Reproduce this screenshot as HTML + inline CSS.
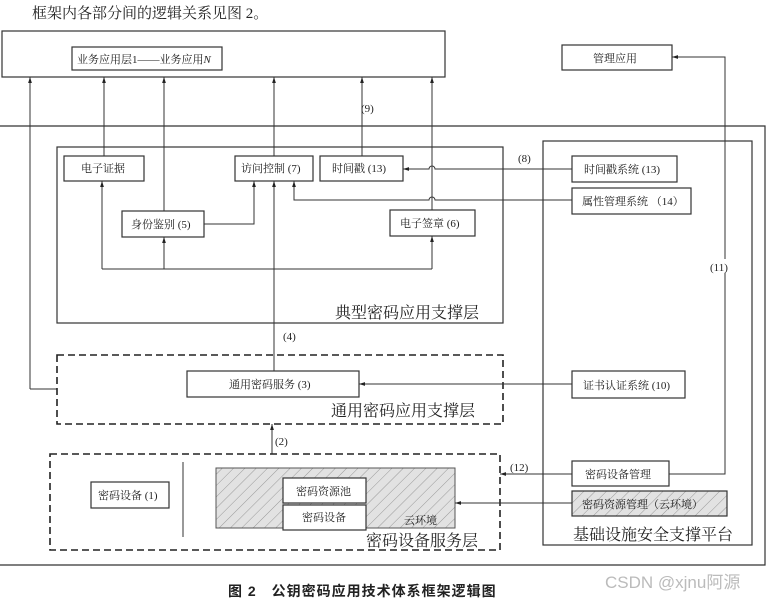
<!DOCTYPE html>
<html><head><meta charset="utf-8"><style>
html,body{margin:0;padding:0;background:#fff;}
svg{display:block;}
text{font-family:"Liberation Serif","Noto Serif CJK SC","Noto Sans CJK SC",serif;fill:#222;}
.b{fill:#fff;stroke:#333;stroke-width:1.2;}
.l{fill:none;stroke:#333;stroke-width:1;}
.d{fill:none;stroke:#222;stroke-width:1.6;stroke-dasharray:7,4;}
.s{font-size:11px;}
.m{font-size:16px;}
</style></head><body>
<svg width="766" height="602" viewBox="0 0 766 602" xmlns="http://www.w3.org/2000/svg">
<defs>
<marker id="a" viewBox="0 0 8 8" refX="8" refY="4" markerWidth="6" markerHeight="6" orient="auto"><path d="M0,1.5 L8,4 L0,6.5 z" fill="#222"/></marker>
<pattern id="h" width="8" height="8" patternUnits="userSpaceOnUse" patternTransform="rotate(45)"><rect width="8" height="8" fill="#e2e2e2"/><line x1="0" y1="0" x2="0" y2="8" stroke="#999" stroke-width="1"/></pattern>
</defs>
<text x="32" y="18" style="font-size:15px">框架内各部分间的逻辑关系见图 2。</text>
<!-- top -->
<rect class="b" x="2" y="31" width="443" height="46"/>
<rect class="b" x="72" y="47" width="150" height="23"/>
<text class="s" x="77" y="63">业务应用层1——业务应用<tspan font-style="italic">N</tspan></text>
<rect class="b" x="562" y="45" width="110" height="25"/>
<text class="s" x="593" y="62">管理应用</text>
<!-- outer -->
<path class="l" d="M0,126 H765 V565 H0" style="stroke-width:1.2"/>
<rect class="b" x="57" y="147" width="446" height="176" style="fill:none"/>
<rect class="b" x="543" y="141" width="209" height="404" style="fill:none"/>
<text class="m" x="335" y="318">典型密码应用支撑层</text>
<text class="m" x="573" y="540">基础设施安全支撑平台</text>
<!-- lines -->
<path class="l" d="M30,389 V77" marker-end="url(#a)"/>
<path class="l" d="M57,389 H30"/>
<path class="l" d="M104,156 V77" marker-end="url(#a)"/>
<path class="l" d="M164,211 V77" marker-end="url(#a)"/>
<path class="l" d="M274,156 V77" marker-end="url(#a)"/>
<path class="l" d="M362,156 V77" marker-end="url(#a)"/>
<text class="s" x="361" y="112">(9)</text>
<path class="l" d="M432,210 V77" marker-end="url(#a)"/>
<path class="l" d="M102,269 H432"/>
<path class="l" d="M102,269 V181" marker-end="url(#a)"/>
<path class="l" d="M164,269 V237" marker-end="url(#a)"/>
<path class="l" d="M432,269 V236" marker-end="url(#a)"/>
<path class="l" d="M204,224 H254 V181" marker-end="url(#a)"/>
<path class="l" d="M274,371 V181" marker-end="url(#a)"/>
<path class="l" d="M572,169 H435 a3,3 0 0 0 -6,0 H403" marker-end="url(#a)"/>
<text class="s" x="518" y="162">(8)</text>
<path class="l" d="M572,200 H435 a3,3 0 0 0 -6,0 H294 V181" marker-end="url(#a)"/>
<path class="l" d="M669,474 H725 V57 H672" marker-end="url(#a)"/>
<rect x="708" y="259" width="34" height="14" fill="#fff"/>
<text class="s" x="710" y="271">(11)</text>
<text class="s" x="283" y="340">(4)</text>
<!-- boxes -->
<rect class="b" x="64" y="156" width="80" height="25"/><text class="s" x="81" y="172">电子证据</text>
<rect class="b" x="235" y="156" width="78" height="25"/><text class="s" x="241" y="172">访问控制 (7)</text>
<rect class="b" x="320" y="156" width="83" height="25"/><text class="s" x="332" y="172">时间戳 (13)</text>
<rect class="b" x="572" y="156" width="105" height="26"/><text class="s" x="584" y="173">时间戳系统 (13)</text>
<rect class="b" x="572" y="188" width="119" height="26"/><text class="s" x="582" y="205">属性管理系统 （14）</text>
<rect class="b" x="122" y="211" width="82" height="26"/><text class="s" x="131" y="228">身份鉴别 (5)</text>
<rect class="b" x="390" y="210" width="85" height="26"/><text class="s" x="400" y="227">电子签章 (6)</text>
<!-- general layer -->
<rect class="d" x="57" y="355" width="446" height="69"/>
<path class="l" d="M572,384 H359" marker-end="url(#a)"/>
<rect class="b" x="187" y="371" width="172" height="26"/><text class="s" x="229" y="388">通用密码服务 (3)</text>
<rect class="b" x="572" y="371" width="113" height="27"/><text class="s" x="583" y="389">证书认证系统 (10)</text>
<text class="m" x="331" y="416">通用密码应用支撑层</text>
<path class="l" d="M272,454 V424" marker-end="url(#a)"/>
<text class="s" x="275" y="445">(2)</text>
<!-- device layer -->
<rect class="d" x="50" y="454" width="450" height="96"/>
<path class="l" d="M183,462 V537"/>
<rect class="b" x="91" y="482" width="78" height="26"/><text class="s" x="98" y="499">密码设备 (1)</text>
<rect x="216" y="468" width="239" height="60" fill="url(#h)" stroke="#555" stroke-width="1"/>
<rect class="b" x="283" y="478" width="83" height="25"/><text class="s" x="296" y="495">密码资源池</text>
<rect class="b" x="283" y="505" width="83" height="25"/><text class="s" x="302" y="521">密码设备</text>
<text class="s" x="404" y="524">云环境</text>
<text class="m" x="366" y="546">密码设备服务层</text>
<path class="l" d="M572,474 H500" marker-end="url(#a)"/>
<text class="s" x="510" y="471">(12)</text>
<path class="l" d="M572,503 H455" marker-end="url(#a)"/>
<rect class="b" x="572" y="461" width="97" height="25"/><text class="s" x="585" y="478">密码设备管理</text>
<rect x="572" y="491" width="155" height="25" fill="url(#h)" stroke="#333" stroke-width="1.2"/><text class="s" x="582" y="508">密码资源管理（云环境）</text>
<!-- caption -->
<text x="228" y="596" style="font-size:14px;font-weight:bold;font-family:'Liberation Sans','Noto Sans CJK SC',sans-serif;letter-spacing:1px">图 2　公钥密码应用技术体系框架逻辑图</text>
<text x="605" y="588" style="font-size:17px;fill:#bbb;font-family:'Liberation Sans','Noto Sans CJK SC',sans-serif">CSDN @xjnu阿源</text>
</svg>
</body></html>
